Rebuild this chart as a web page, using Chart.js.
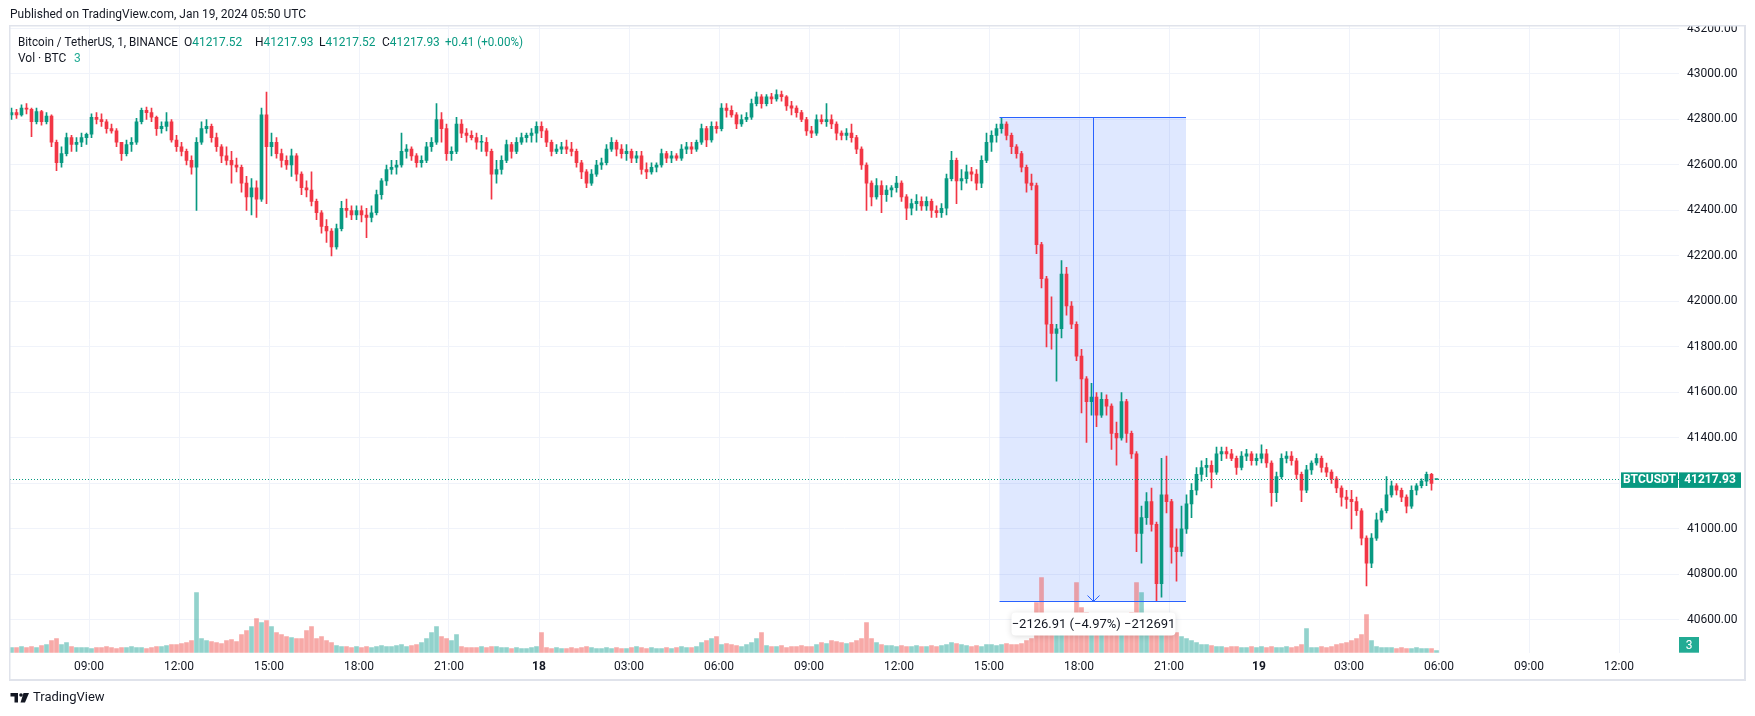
<!DOCTYPE html>
<html>
<head>
<meta charset="utf-8">
<script src="https://cdn.jsdelivr.net/npm/chart.js@4.4.1/dist/chart.umd.min.js"></script>
<style>
  html, body { margin: 0; padding: 0; background: #fff; }
  canvas { display: block; }
</style>
</head>
<body>
<canvas id="grafica-btc" width="1755" height="716"></canvas>
<script>
// 10-minute bars, minutes counted from Jan 17 2024 00:00 UTC
var barStart = 380;
var barStep = 10;

var opens = [42820,42830,42820,42850,42845,42790,42835,42790,42815,42700,
  42610,42650,42720,42690,42700,42720,42735,42810,42800,42790,
  42760,42750,42700,42650,42690,42700,42790,42840,42830,42810,
  42760,42770,42790,42710,42680,42660,42620,42590,42700,42760,
  42770,42720,42680,42640,42620,42600,42590,42520,42460,42500,
  42450,42820,42680,42700,42650,42620,42600,42640,42560,42500,
  42490,42440,42390,42330,42310,42240,42320,42410,42400,42380,
  42400,42380,42370,42390,42470,42530,42580,42590,42600,42660,
  42670,42640,42610,42620,42680,42700,42800,42760,42650,42660,
  42780,42740,42730,42720,42700,42700,42660,42560,42580,42620,
  42690,42660,42700,42720,42730,42740,42770,42750,42700,42660,
  42670,42680,42670,42660,42610,42570,42520,42560,42600,42610,
  42670,42700,42670,42650,42660,42630,42640,42580,42570,42590,
  42600,42650,42630,42640,42630,42670,42680,42670,42700,42760,
  42710,42770,42760,42850,42840,42820,42780,42800,42810,42870,
  42900,42870,42900,42890,42910,42900,42860,42850,42830,42800,
  42750,42740,42800,42790,42800,42780,42740,42730,42740,42720,
  42670,42600,42520,42460,42510,42470,42490,42500,42520,42460,
  42410,42430,42440,42420,42440,42400,42390,42410,42540,42620,
  42530,42540,42570,42560,42520,42620,42700,42730,42760,42780,
  42730,42680,42650,42590,42520,42510,42250,42100,41900,41860,
  41880,42120,41980,41900,41760,41660,41560,41580,41500,41570,
  41540,41420,41400,41560,41420,41330,40980,41050,41120,41020,
  40760,41150,41120,40920,40900,41000,41110,41170,41240,41270,
  41280,41250,41330,41340,41330,41310,41270,41320,41330,41300,
  41310,41330,41290,41160,41230,41310,41320,41300,41240,41170,
  41260,41290,41310,41270,41250,41220,41180,41140,41130,41120,
  41080,40960,40850,40960,41040,41080,41150,41190,41170,41140,
  41100,41170,41190,41210,41240,41217.52];

var highs = [42850,42845,42865,42870,42850,42850,42840,42830,42820,42710,
  42680,42740,42730,42720,42740,42740,42825,42830,42825,42800,
  42780,42760,42700,42710,42720,42805,42850,42855,42850,42815,
  42790,42830,42800,42730,42700,42670,42640,42720,42790,42800,
  42780,42740,42690,42680,42660,42630,42600,42550,42540,42530,
  42850,42920,42740,42720,42670,42640,42670,42650,42570,42530,
  42570,42450,42400,42360,42320,42340,42440,42450,42420,42420,
  42420,42410,42420,42490,42540,42600,42620,42620,42740,42690,
  42680,42650,42640,42700,42720,42870,42830,42780,42680,42810,
  42800,42760,42750,42740,42730,42720,42670,42620,42640,42710,
  42700,42720,42740,42740,42760,42790,42790,42760,42710,42690,
  42700,42710,42700,42670,42620,42580,42580,42620,42630,42690,
  42720,42710,42690,42690,42670,42660,42660,42610,42610,42610,
  42670,42660,42660,42650,42690,42700,42700,42710,42780,42770,
  42790,42790,42870,42870,42860,42830,42820,42830,42890,42920,
  42910,42910,42915,42930,42925,42905,42880,42860,42840,42810,
  42770,42820,42820,42870,42820,42790,42750,42760,42780,42730,
  42680,42610,42530,42540,42530,42510,42510,42550,42530,42470,
  42450,42470,42460,42460,42450,42420,42430,42560,42660,42630,
  42580,42600,42590,42580,42640,42740,42750,42780,42810,42790,
  42740,42690,42660,42600,42560,42520,42260,42110,42020,41900,
  42180,42150,42000,41910,41790,41670,41640,41600,41600,41590,
  41550,41470,41600,41570,41430,41340,41100,41160,41180,41030,
  41310,41320,41130,41000,41100,41150,41200,41270,41300,41310,
  41300,41360,41360,41360,41350,41320,41340,41350,41340,41330,
  41370,41350,41300,41250,41330,41340,41340,41310,41250,41280,
  41300,41330,41320,41290,41260,41230,41190,41170,41170,41140,
  41090,40970,40980,41070,41090,41230,41210,41200,41180,41150,
  41190,41200,41220,41250,41245,41217.93];

var lows = [42800,42805,42815,42825,42725,42780,42775,42780,42680,42575,
  42590,42640,42660,42660,42680,42690,42720,42780,42770,42740,
  42740,42680,42620,42640,42660,42690,42780,42800,42790,42730,
  42740,42750,42700,42660,42640,42600,42560,42400,42690,42740,
  42700,42660,42610,42600,42520,42570,42480,42400,42380,42370,
  42440,42430,42640,42630,42590,42580,42550,42530,42470,42460,
  42420,42360,42300,42260,42200,42230,42310,42370,42360,42360,
  42350,42280,42350,42380,42450,42510,42560,42560,42590,42630,
  42620,42590,42590,42610,42660,42690,42700,42620,42620,42650,
  42720,42700,42710,42670,42660,42640,42450,42520,42560,42610,
  42630,42650,42690,42700,42700,42700,42720,42680,42640,42650,
  42650,42650,42640,42590,42540,42500,42510,42550,42580,42600,
  42660,42640,42630,42620,42610,42610,42560,42540,42560,42570,
  42590,42610,42610,42620,42620,42650,42650,42660,42690,42680,
  42700,42740,42750,42810,42810,42760,42770,42790,42800,42860,
  42850,42860,42870,42880,42880,42840,42820,42810,42790,42730,
  42720,42730,42780,42770,42760,42710,42710,42710,42700,42650,
  42580,42400,42420,42450,42390,42440,42460,42480,42440,42360,
  42380,42400,42400,42400,42370,42370,42370,42380,42530,42430,
  42490,42520,42530,42490,42500,42610,42660,42700,42740,42710,
  42650,42630,42570,42480,42490,42210,42060,41800,41790,41650,
  41840,41940,41880,41740,41510,41380,41500,41450,41490,41500,
  41350,41280,41390,41380,41310,40900,40850,41020,40990,40680,
  40700,41070,40850,40770,40880,40980,41050,41150,41210,41230,
  41180,41240,41300,41310,41300,41240,41260,41300,41280,41280,
  41290,41270,41100,41120,41220,41290,41280,41220,41120,41160,
  41240,41280,41250,41230,41200,41160,41100,41090,41000,41060,
  40930,40750,40830,40950,41030,41070,41140,41150,41120,41070,
  41090,41150,41180,41190,41170,41217.52];

var closes = [42830,42820,42850,42845,42790,42835,42790,42815,42700,42610,
  42650,42720,42690,42700,42720,42735,42810,42800,42790,42760,
  42750,42700,42650,42690,42700,42790,42840,42830,42810,42760,
  42770,42790,42710,42680,42660,42620,42590,42700,42760,42770,
  42720,42680,42640,42620,42600,42590,42520,42460,42500,42450,
  42820,42680,42700,42650,42620,42600,42640,42560,42500,42490,
  42440,42390,42330,42310,42240,42320,42410,42400,42380,42400,
  42380,42370,42390,42470,42530,42580,42590,42600,42660,42670,
  42640,42610,42620,42680,42700,42800,42760,42650,42660,42780,
  42740,42730,42720,42700,42700,42660,42560,42580,42620,42690,
  42660,42700,42720,42730,42740,42770,42750,42700,42660,42670,
  42680,42670,42660,42610,42570,42520,42560,42600,42610,42670,
  42700,42670,42650,42660,42630,42640,42580,42570,42590,42600,
  42650,42630,42640,42630,42670,42680,42670,42700,42760,42710,
  42770,42760,42850,42840,42820,42780,42800,42810,42870,42900,
  42870,42900,42890,42910,42900,42860,42850,42830,42800,42750,
  42740,42800,42790,42800,42780,42740,42730,42740,42720,42670,
  42600,42520,42460,42510,42470,42490,42500,42520,42460,42410,
  42430,42440,42420,42440,42400,42390,42410,42540,42620,42530,
  42540,42570,42560,42520,42620,42700,42730,42760,42780,42730,
  42680,42650,42590,42520,42510,42250,42100,41900,41860,41880,
  42120,41980,41900,41760,41660,41560,41580,41500,41570,41540,
  41420,41400,41560,41420,41330,40980,41050,41120,41020,40760,
  41150,41120,40920,40900,41000,41110,41170,41240,41270,41280,
  41250,41330,41340,41330,41310,41270,41320,41330,41300,41310,
  41330,41290,41160,41230,41310,41320,41300,41240,41170,41260,
  41290,41310,41270,41250,41220,41180,41140,41130,41120,41080,
  40960,40850,40960,41040,41080,41150,41190,41170,41140,41100,
  41170,41190,41210,41240,41200,41217.93];

var volumes = [200,200,240,200,240,200,280,320,480,560,
  320,400,240,200,200,200,160,200,200,240,
  200,160,200,200,240,200,200,160,200,240,
  240,280,320,320,360,400,480,2400,560,480,
  440,400,360,480,520,440,720,880,1040,1360,
  1200,1280,1040,800,720,640,600,560,560,880,
  1040,560,640,480,400,280,240,240,200,240,
  200,240,200,240,280,240,240,280,320,240,
  280,320,400,560,800,1040,640,560,480,720,
  240,200,200,200,240,200,240,240,200,200,
  160,200,160,160,200,240,800,200,160,200,
  160,160,200,160,200,240,200,160,160,200,
  160,200,160,160,200,240,200,160,200,160,
  160,200,160,200,240,200,200,240,400,480,
  560,640,320,360,320,280,240,320,400,560,
  800,280,240,240,280,200,240,240,280,240,
  240,320,400,360,480,440,400,360,400,480,
  560,1200,560,400,320,280,280,240,280,240,
  240,280,240,240,280,240,280,320,400,360,
  320,280,240,280,240,320,320,280,320,360,
  320,320,360,480,560,2000,3000,1400,1200,1000,
  1120,880,800,2800,1800,1600,1200,880,800,1000,
  1040,720,800,880,1600,2800,2400,1280,1200,1400,
  1200,800,720,800,640,560,480,400,320,320,
  280,240,240,200,240,240,200,200,240,200,
  240,200,240,200,200,240,200,240,320,960,
  200,200,240,200,240,320,360,400,480,560,
  720,1520,480,240,200,200,200,160,200,160,
  160,200,160,160,160,80];

var priceTicks = [40600,40800,41000,41200,41400,41600,41800,42000,42200,42400,42600,42800,43000,43200];
var timeTicks = [540,720,900,1080,1260,1440,1620,1800,1980,2160,2340,2520,2700,2880,3060,3240,3420,3600];
var timeLabels = ["09:00","12:00","15:00","18:00","21:00","18","03:00","06:00","09:00","12:00","15:00","18:00","21:00","19","03:00","06:00","09:00","12:00"];

var lastPrice = 41217.93;
var measureFrom = 2361, measureTo = 2734;
var measureHigh = 42810.84, measureLow = 40683.93;
var measureText = "\u22122126.91 (\u22124.97%) \u2212212691";

var upColor = "#089981", downColor = "#f23645";
var upVol = "rgba(38,166,154,0.5)", downVol = "rgba(239,83,80,0.5)";
var textColor = "#131722";

Chart.defaults.font.family = "Roboto, 'Noto Sans', sans-serif";

var barTimes = opens.map(function (o, i) { return barStart + barStep * i + barStep / 2; });

function candleColor(ctx) {
  var i = ctx.dataIndex;
  return closes[i] >= opens[i] ? upColor : downColor;
}
function volumeColor(ctx) {
  var i = ctx.dataIndex;
  return closes[i] >= opens[i] ? upVol : downVol;
}

var tvOverlay = {
  id: "tvOverlay",
  beforeDraw: function (chart) {
    var c = chart.ctx;
    c.save();
    c.fillStyle = "#ffffff";
    c.fillRect(0, 0, chart.width, chart.height);
    c.restore();
  },
  beforeDatasetsDraw: function (chart) {
    var c = chart.ctx, xs = chart.scales.x, ys = chart.scales.y;
    var x0 = xs.getPixelForValue(measureFrom), x1 = xs.getPixelForValue(measureTo);
    var y0 = ys.getPixelForValue(measureHigh), y1 = ys.getPixelForValue(measureLow);
    c.save();
    c.fillStyle = "rgba(41,98,255,0.15)";
    c.fillRect(x0, y0, x1 - x0, y1 - y0);
    c.restore();
  },
  afterDatasetsDraw: function (chart) {
    var c = chart.ctx, xs = chart.scales.x, ys = chart.scales.y, area = chart.chartArea;
    c.save();

    // last price line
    var py = Math.round(ys.getPixelForValue(lastPrice)) + 0.5;
    c.strokeStyle = upColor;
    c.lineWidth = 1;
    c.setLineDash([1, 2]);
    c.beginPath();
    c.moveTo(area.left, py);
    c.lineTo(area.right, py);
    c.stroke();
    c.setLineDash([]);

    // measure tool
    var x0 = xs.getPixelForValue(measureFrom), x1 = xs.getPixelForValue(measureTo);
    var y0 = Math.round(ys.getPixelForValue(measureHigh)) + 0.5;
    var y1 = Math.round(ys.getPixelForValue(measureLow)) + 0.5;
    var xm = Math.round((x0 + x1) / 2) + 0.5;
    c.strokeStyle = "#2962ff";
    c.beginPath();
    c.moveTo(x0, y0); c.lineTo(x1, y0);
    c.moveTo(x0, y1); c.lineTo(x1, y1);
    c.moveTo(xm, y0); c.lineTo(xm, y1);
    c.moveTo(xm - 6, y1 - 6); c.lineTo(xm, y1); c.lineTo(xm + 6, y1 - 6);
    c.stroke();

    c.shadowColor = "rgba(0,0,0,0.15)";
    c.shadowBlur = 6;
    c.shadowOffsetY = 1;
    c.fillStyle = "#ffffff";
    c.beginPath();
    c.roundRect(xm - 82, y1 + 11, 164, 23, 4);
    c.fill();
    c.shadowColor = "transparent";
    c.fillStyle = textColor;
    c.font = "13px Roboto";
    c.textAlign = "center";
    c.textBaseline = "middle";
    c.fillText(measureText, xm, y1 + 23);

    // price label on axis
    var ly = ys.getPixelForValue(lastPrice);
    c.fillStyle = upColor;
    c.fillRect(1621, ly - 7, 57, 15.5);
    c.fillRect(1679, ly - 7, 62, 15.5);
    c.fillStyle = "#ffffff";
    c.font = "bold 12px Roboto";
    c.fillText("BTCUSDT", 1649.5, ly + 1);
    c.fillText(lastPrice.toFixed(2), 1710, ly + 1);

    // volume badge
    c.fillStyle = "#22ab94";
    c.fillRect(1679, 637, 20, 15.7);
    c.fillStyle = "#ffffff";
    c.font = "12px Roboto";
    c.fillText(String(3), 1689, 645.5);

    // cover the clipped top of the price axis
    c.fillStyle = "#ffffff";
    c.fillRect(1600, 0, 155, 25);

    // frame
    c.fillStyle = "#e0e3eb";
    c.fillRect(9, 25, 1737, 1.5);
    c.fillRect(9, 25, 1.5, 656);
    c.fillRect(1744, 25, 2, 656);
    c.fillRect(9, 679, 1737, 2);

    // header texts
    c.textAlign = "left";
    c.textBaseline = "middle";
    c.fillStyle = textColor;
    c.font = "12px Roboto";
    c.fillText("Published on TradingView.com, Jan 19, 2024 05:50 UTC", 10, 15, 296);

    c.fillText("Bitcoin / TetherUS, 1, BINANCE", 18, 43, 160);
    var parts = [["O", "41217.52", 184], ["H", "41217.93", 255], ["L", "41217.52", 319], ["C", "41217.93", 382]];
    parts.forEach(function (p) {
      c.fillStyle = textColor;
      c.fillText(p[0], p[2], 43);
      var w = c.measureText(p[0]).width;
      c.fillStyle = upColor;
      c.fillText(p[1], p[2] + w, 43, 50);
    });
    c.fillStyle = upColor;
    c.fillText("+0.41 (+0.00%)", 445, 43, 78);
    c.fillStyle = textColor;
    c.fillText("Vol \u00b7 BTC", 18, 59);
    c.fillStyle = "#22ab94";
    c.fillText("3", 74, 59);

    // logo
    c.fillStyle = textColor;
    c.fillRect(10.5, 693, 7.5, 3.5);
    c.fillRect(14.5, 693, 3.5, 9.5);
    c.beginPath();
    c.arc(21, 695, 1.8, 0, Math.PI * 2);
    c.fill();
    c.beginPath();
    c.moveTo(23.5, 693); c.lineTo(29, 693); c.lineTo(25, 702.5); c.lineTo(20.5, 702.5);
    c.closePath();
    c.fill();
    c.font = "13px Roboto";
    c.fillText("TradingView", 33, 698);

    c.restore();
  }
};

var graficaContexto = document.getElementById("grafica-btc");
var grafica = new Chart(graficaContexto, {
  type: "bar",
  data: {
    datasets: [
      {
        label: "Cuerpo",
        data: opens.map(function (o, i) { return { x: barTimes[i], y: [o, closes[i]] }; }),
        backgroundColor: candleColor,
        barThickness: 3,
        minBarLength: 1,
        grouped: false,
        yAxisID: "y"
      },
      {
        label: "Mecha",
        data: lows.map(function (l, i) { return { x: barTimes[i], y: [l, highs[i]] }; }),
        backgroundColor: candleColor,
        barThickness: 1,
        grouped: false,
        yAxisID: "y"
      },
      {
        label: "Volumen",
        data: volumes.map(function (v, i) { return { x: barTimes[i], y: v }; }),
        backgroundColor: volumeColor,
        barThickness: 4,
        grouped: false,
        yAxisID: "yv"
      }
    ]
  },
  options: {
    responsive: false,
    animation: false,
    devicePixelRatio: 1,
    layout: { padding: { left: 10, top: 26, right: 10, bottom: 36 } },
    plugins: { legend: { display: false }, tooltip: { enabled: false } },
    scales: {
      x: {
        type: "linear",
        min: 382,
        max: 3720,
        offset: false,
        grid: { color: "#f0f3fa", drawTicks: false, offset: false },
        border: { display: false },
        afterBuildTicks: function (s) { s.ticks = timeTicks.map(function (v) { return { value: v }; }); },
        afterFit: function (s) { s.height = 27.3; },
        ticks: {
          autoSkip: false,
          maxRotation: 0,
          padding: 7,
          color: textColor,
          font: function (ctx) {
            var lab = timeLabels[ctx.index] || "";
            return { size: 12, weight: lab.length < 3 ? "bold" : "normal" };
          },
          callback: function (v, i) { return timeLabels[i]; }
        }
      },
      y: {
        type: "linear",
        position: "right",
        min: 40456,
        max: 43211,
        grid: { color: "#f0f3fa", drawTicks: false },
        border: { display: false },
        afterBuildTicks: function (s) { s.ticks = priceTicks.map(function (v) { return { value: v }; }); },
        afterFit: function (s) { s.width = 66; },
        ticks: {
          padding: 8,
          color: textColor,
          font: { size: 12 },
          callback: function (v) { return Number(v).toFixed(2); }
        }
      },
      yv: {
        type: "linear",
        display: false,
        min: 0,
        max: 25000
      }
    }
  },
  plugins: [tvOverlay]
});
</script>
</body>
</html>
